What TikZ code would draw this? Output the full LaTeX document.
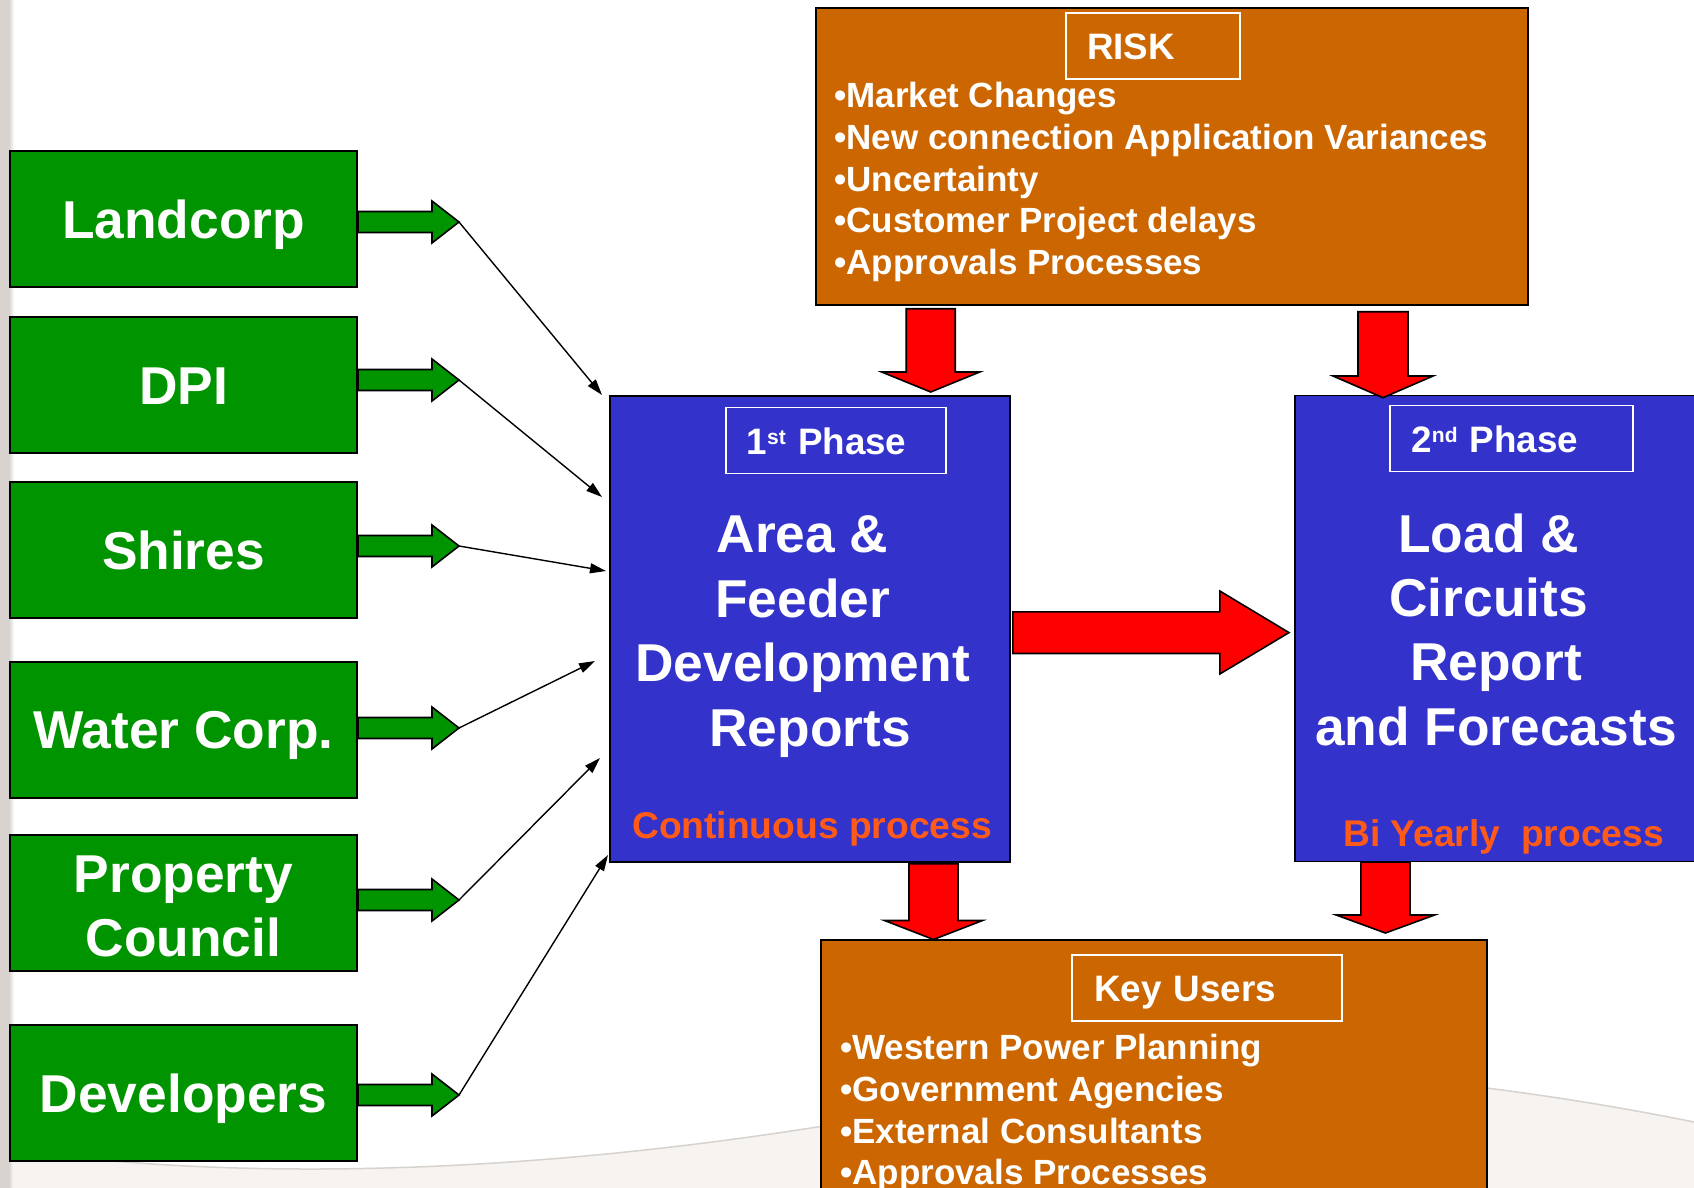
\documentclass[tikz,border=0pt]{standalone}
\usepackage{fontspec}
\setmainfont{Liberation Sans}
\usepackage{xcolor}
\usepackage{tikz}
\usetikzlibrary{arrows.meta,calc}
\definecolor{srcgreen}{RGB}{0,148,0}
\definecolor{phaseblue}{RGB}{51,51,204}
\definecolor{riskorange}{RGB}{204,102,0}
\definecolor{procorange}{RGB}{255,90,24}
\definecolor{slidegray}{RGB}{216,211,207}
\definecolor{swooshfill}{RGB}{246,243,240}
\definecolor{swooshline}{RGB}{214,210,206}

\begin{document}
\begin{tikzpicture}[line join=miter,>={Triangle[length=16pt,width=10pt]},x=1pt,y=-1pt,
  srcbox/.style={draw=black,line width=1.8pt,fill=srcgreen,text=white,minimum width=347pt,minimum height=136pt,inner sep=0pt,align=center,font=\bfseries\fontsize{53.3}{63.3}\selectfont},
  onerow/.style={text height=38pt,text depth=0pt},
  blockarrow/.style={draw=black,line width=1.6pt},
  phasebox/.style={draw=black,line width=1.8pt,fill=phaseblue,minimum height=466pt,inner sep=0pt},
  listbox/.style={draw=black,line width=1.8pt,fill=riskorange,inner sep=0pt},
  tagbox/.style={draw=white,line width=1.8pt,text=white,minimum height=66pt,inner ysep=0pt,align=left,text height=27pt,text depth=0pt,font=\bfseries\fontsize{36.8}{44}\selectfont},
  bigtext/.style={text=white,inner sep=0pt,align=center,font=\bfseries\fontsize{53.3}{64.4}\selectfont},
  proctext/.style={text=procorange,inner sep=0pt,anchor=base,font=\bfseries\fontsize{37.2}{44}\selectfont},
  itemline/.style={text=white,inner sep=0pt,anchor=base west,font=\bfseries\fontsize{35}{42}\selectfont}]
\useasboundingbox (0,0) rectangle (1694,1188);
\fill[white] (0,0) rectangle (1694,1188);
\fill[slidegray] (0,0) rectangle (9,1188);
\shade[left color=slidegray,right color=white] (9,0) rectangle (14,1188);
\fill[swooshfill] (14,1150) .. controls (300,1190) and (700,1170) .. (1150,1060) .. controls (1400,1072) and (1560,1095) .. (1694,1122) -- (1694,1188) -- (14,1188) -- cycle;
\draw[swooshline,line width=1.5pt] (14,1150) .. controls (300,1190) and (700,1170) .. (1150,1060) .. controls (1400,1072) and (1560,1095) .. (1694,1122);

\node[srcbox,onerow] (landcorp) at (183.5,219) {Landcorp};
\node[srcbox,onerow] (dpi) at (183.5,385.2) {DPI};
\node[srcbox,onerow] (shires) at (183.5,550) {Shires};
\node[srcbox,onerow] (water) at (183.5,729.6) {Water Corp.};
\node[srcbox] (property) at (183.5,903.3) {\rule{0pt}{43pt}Property\\Council};
\node[srcbox,onerow] (devel) at (183.5,1093) {Developers};

\node[listbox,minimum width=712pt,minimum height=297pt] (risk) at (1172,156.8) {};
\node[listbox,minimum width=666pt,minimum height=260pt] (keyusers) at (1154,1070) {};
\node[phasebox,minimum width=400pt] (area) at (810,629) {};
\node[phasebox,minimum width=407pt] (load) at (1498.5,628.5) {};

\node[tagbox,text width=132pt,inner xsep=21pt] (risktag) at (1153,46.4) {RISK};
\node[tagbox,text width=178.8pt,inner xsep=20.6pt] (ph1tag) at (836,440.5) {1\raisebox{10pt}{\fontsize{21}{21}\selectfont st} Phase};
\node[tagbox,text width=200pt,inner xsep=21.5pt] (ph2tag) at (1511.5,438.5) {2\raisebox{10pt}{\fontsize{21}{21}\selectfont nd} Phase};
\node[tagbox,text width=226pt,inner xsep=22pt] (keytag) at (1207,988) {Key Users};

\foreach \t [count=\i] in {Market Changes,New connection Application Variances,Uncertainty,Customer Project delays,Approvals Processes}
  \node[itemline] (riskitem\i) at (834,{108+41.5*(\i-1)}) {\textbullet\t};
\foreach \t [count=\i] in {Western Power Planning,Government Agencies,External Consultants,Approvals Processes}
  \node[itemline] (useritem\i) at (840,{1059.5+41.8*(\i-1)}) {\textbullet\t};

\node[bigtext] (areatxt) at (810,636.5) {Area \&\rule{14.8pt}{0pt}\\Feeder\rule{14.8pt}{0pt}\\Development\rule{14.8pt}{0pt}\\Reports};
\node[bigtext] (loadtxt) at (1496,629.6) {Load \&\rule{14.8pt}{0pt}\\Circuits\rule{14.8pt}{0pt}\\Report\\and Forecasts};
\node[proctext] (contproc) at (812,838) {Continuous process};
\node[proctext] (biproc) at (1503.5,846) {Bi Yearly\ \ process};

\foreach \y [count=\i] in {222,380,546,728,900,1095} {
  \draw[blockarrow,fill=srcgreen] (358,\y-10.5) -- (432,\y-10.5) -- (432,\y-21) -- (459,\y) -- (432,\y+21) -- (432,\y+10.5) -- (358,\y+10.5) -- cycle;
  \coordinate (gt\i) at (459,\y);
}
\coordinate (in1) at (602,395);
\coordinate (in2) at (602,497);
\coordinate (in3) at (606,571);
\coordinate (in4) at (595,661);
\coordinate (in5) at (600,758);
\coordinate (in6) at (608,855);
\foreach \i in {1,...,6}
  \draw[->,line width=1.4pt] (gt\i) -- (in\i);

\foreach \cx/\hw/\ya/\yb/\yc in {930.7/24.5/308.7/372/392,1383/25/311.7/376/397.7,933.5/24.5/863.7/920.5/939.5,1385.4/24.6/862/915/933}
  \draw[blockarrow,fill=red] (\cx-\hw,\ya) -- (\cx+\hw,\ya) -- (\cx+\hw,\yb) -- (\cx+2*\hw,\yb) -- (\cx,\yc) -- (\cx-2*\hw,\yb) -- (\cx-\hw,\yb) -- cycle;
\draw[blockarrow,fill=red] (1012.8,611.8) -- (1219.8,611.8) -- (1219.8,591) -- (1289,632.6) -- (1219.8,674) -- (1219.8,653.5) -- (1012.8,653.5) -- cycle;
\end{tikzpicture}
\end{document}
